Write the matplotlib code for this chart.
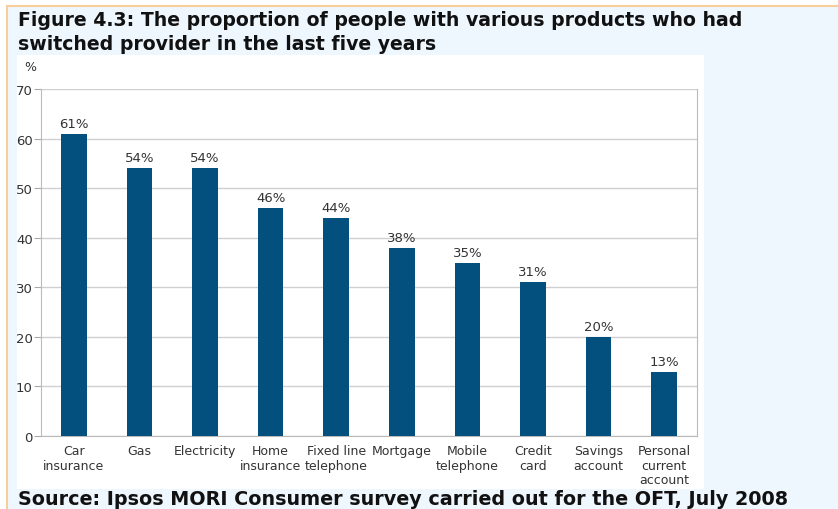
import matplotlib.pyplot as plt
from matplotlib.patches import Rectangle
from matplotlib.lines import Line2D

categories = ['Car\ninsurance', 'Gas', 'Electricity', 'Home\ninsurance', 'Fixed line\ntelephone',
              'Mortgage', 'Mobile\ntelephone', 'Credit\ncard', 'Savings\naccount',
              'Personal\ncurrent\naccount']
values = [61, 54, 54, 46, 44, 38, 35, 31, 20, 13]
yticks = [0, 10, 20, 30, 40, 50, 60, 70]

W, H = 838, 510
fig = plt.figure(figsize=(W / 100, H / 100), dpi=100)
fig.patch.set_facecolor('white')

# page background, orange frame and white chart panel
fig.add_artist(Rectangle((7 / W, 0), 1, 1 - 7 / H, transform=fig.transFigure,
                         facecolor='#eef6fe', edgecolor='none', zorder=0))
fig.add_artist(Line2D([7 / W, 1], [1 - 7 / H, 1 - 7 / H], transform=fig.transFigure,
                      color='#f8cf9a', linewidth=1.5))
fig.add_artist(Line2D([7 / W, 7 / W], [0, 1 - 7 / H], transform=fig.transFigure,
                      color='#f8cf9a', linewidth=1.5))
fig.add_artist(Rectangle((17 / W, 1 - 490 / H), (704 - 17) / W, (490 - 56) / H,
                         transform=fig.transFigure, facecolor='white', edgecolor='none', zorder=0))

fig.text(18 / W, 1 - 11 / H,
         'Figure 4.3: The proportion of people with various products who had\nswitched provider in the last five years',
         ha='left', va='top', fontsize=13.6, fontweight='bold', color='#111111', linespacing=1.3)
fig.text(18 / W, 1 - 500 / H, 'Source: Ipsos MORI Consumer survey carried out for the OFT, July 2008',
         ha='left', va='center', fontsize=13.8, fontweight='bold', color='#111111')

ax = fig.add_axes([41 / W, 1 - 437 / H, (697 - 41) / W, (437 - 90) / H])
ax.set_facecolor('white')
x = range(len(categories))
bars = ax.bar(x, values, width=0.39, color='#03507e', zorder=3)
for b, v in zip(bars, values):
    ax.text(b.get_x() + b.get_width() / 2, v + 0.8, f'{v}%', ha='center', va='bottom',
            fontsize=9.5, color='#333333')

ax.set_xlim(-0.5, len(categories) - 0.5)
ax.set_ylim(0, 70)
ax.set_yticks(yticks)
ax.set_xticks(list(x))
ax.set_xticklabels(categories, fontsize=9, color='#333333', linespacing=1.15)
ax.tick_params(axis='y', labelsize=9.5, labelcolor='#333333', color='#aaaaaa', length=5, pad=1)
ax.tick_params(axis='x', length=0, pad=6)
ax.grid(axis='y', color='#d0d0d0', linewidth=1, zorder=0)
for s in ax.spines.values():
    s.set_color('#bbbbbb')
ax.spines['top'].set_visible(False)

ax.text(-0.017, 1.066, '%', transform=ax.transAxes, ha='center', va='center', fontsize=9, color='#333333')

fig.savefig('out.png', dpi=100)
